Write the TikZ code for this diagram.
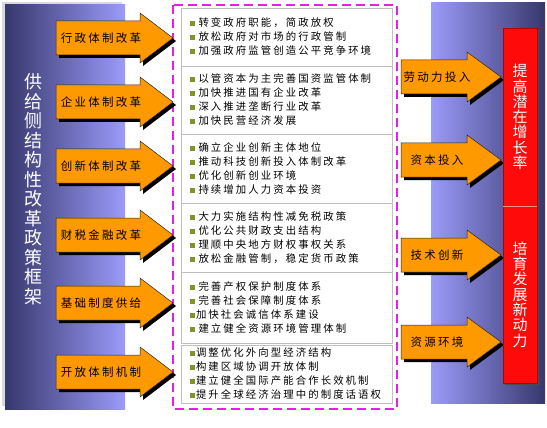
\documentclass[tikz,border=0pt]{standalone}
\usepackage{fontspec}
\newfontfamily\cjk[LetterSpace=20]{Noto Sans CJK SC}
\newfontfamily\cjkplain{Noto Sans CJK SC}
\usetikzlibrary{arrows.meta,calc}
\definecolor{arroworange}{RGB}{255,153,0}
\definecolor{paneldark}{RGB}{55,55,110}
\definecolor{panellight}{RGB}{155,155,250}
\definecolor{dashpink}{RGB}{232,30,232}
\definecolor{bulletgreen}{RGB}{130,145,40}
\definecolor{barred}{RGB}{255,10,10}
\newcommand\itm{\textcolor{bulletgreen}{\rule[0.5pt]{5pt}{5pt}}\hspace{4pt}}
\newcommand\itmt{\textcolor{bulletgreen}{\rule[0.5pt]{5pt}{5pt}}\hspace{1.5pt}}

\begin{document}
\begin{tikzpicture}[x=1pt,y=-1pt,
  arrowbody/.style={fill=arroworange,draw=black!85,line width=0.5pt},
  arrowshadow/.style={fill=black},
  arrtext/.style={font=\cjk\fontsize{11.5}{12}\selectfont,inner sep=0pt},
  itembox/.style={draw=black!25,fill=white,minimum width=211pt,text width=194pt,
    inner xsep=8.5pt,align=left,font=\cjk\fontsize{10.4}{14}\selectfont},
  redbar/.style={fill=barred,draw=red!70!black,minimum width=34pt,inner sep=0pt,
    text=white,align=center,font=\cjkplain\fontsize{15}{15.3}\selectfont}]
  \useasboundingbox (0,0) rectangle (547,428);
  % side panels
  \fill[black!15] (2,2) rectangle (122,406);
  \shade[left color=paneldark,right color=panellight] (5,5) rectangle (125,409);
  \shade[left color=panellight,right color=paneldark] (431,3) rectangle (545,403);
  \node[text=white,align=center,inner sep=0pt,
    font=\cjkplain\fontsize{18}{19.5}\selectfont] (title) at (33,189)
    {供\\给\\侧\\结\\构\\性\\改\\革\\政\\策\\框\\架};
  % middle column
  \draw[dashpink,line width=1.6pt,dash pattern=on 9pt off 5pt] (173,5) rectangle (397,409);
  \node[itembox,minimum height=58pt] (b1) at (286.5,37)
    {\itm 转变政府职能，简政放权\\\itm 放松政府对市场的行政管制\\\itm 加强政府监管创造公平竞争环境};
  \node[itembox,minimum height=68pt] (b2) at (286.5,100)
    {\itm 以管资本为主完善国资监管体制\\\itm 加快推进国有企业改革\\\itm 深入推进垄断行业改革\\\itm 加快民营经济发展};
  \node[itembox,minimum height=69pt] (b3) at (286.5,168.5)
    {\itm 确立企业创新主体地位\\\itm 推动科技创新投入体制改革\\\itm 优化创新创业环境\\\itm 持续增加人力资本投资};
  \node[itembox,minimum height=69pt] (b4) at (286.5,237.5)
    {\itm 大力实施结构性减免税政策\\\itm 优化公共财政支出结构\\\itm 理顺中央地方财权事权关系\\\itm 放松金融管制，稳定货币政策};
  \node[itembox,minimum height=71pt] (b5) at (286.5,307.5)
    {\itm 完善产权保护制度体系\\\itm 完善社会保障制度体系\\\itmt 加快社会诚信体系建设\\\itm 建立健全资源环境管理体制};
  \node[itembox,minimum height=58pt] (b6) at (286.5,374)
    {\itmt 调整优化外向型经济结构\\\itmt 构建区域协调开放体制\\\itmt 建立健全国际产能合作长效机制\\\itmt 提升全球经济治理中的制度话语权};
  % arrows
  \foreach \x/\h/\p/\y/\t/\n in {56/140/173/38/行政体制改革/xz,56/140/173/102/企业体制改革/qy,
      56/140/173/166/创新体制改革/cx,56/140/173/235/财税金融改革/cs,
      56/140/173/303/基础制度供给/jc,56/140/173/372/开放体制机制/kf,
      401/467/501/77/劳动力投入/ld,401/467/501/160/资本投入/zb,
      401/467/501/255/技术创新/js,401/467/501/342/资源环境/zy}{
    \fill[arrowshadow,shift={(3,3)}] (\x,\y-17) -- (\h,\y-17) -- (\h,\y-25) -- (\p,\y)
      -- (\h,\y+25) -- (\h,\y+17) -- (\x,\y+17) -- cycle;
    \draw[arrowbody] (\x,\y-17) -- (\h,\y-17) -- (\h,\y-25) -- (\p,\y)
      -- (\h,\y+25) -- (\h,\y+17) -- (\x,\y+17) -- cycle;
    \node[arrtext] (\n) at ({(\x+\h)/2+3},\y) {\t};
  }
  % goals
  \fill[black!70] (505,30) rectangle (539,385);
  \node[redbar,minimum height=178pt] (up) at (520,117) {提\\高\\潜\\在\\增\\长\\率};
  \node[redbar,minimum height=177pt] (down) at (520,294.5) {培\\育\\发\\展\\新\\动\\力};
  \draw[red!45!white,line width=0.6pt] (up.south west) -- (up.south east);
\end{tikzpicture}
\end{document}
